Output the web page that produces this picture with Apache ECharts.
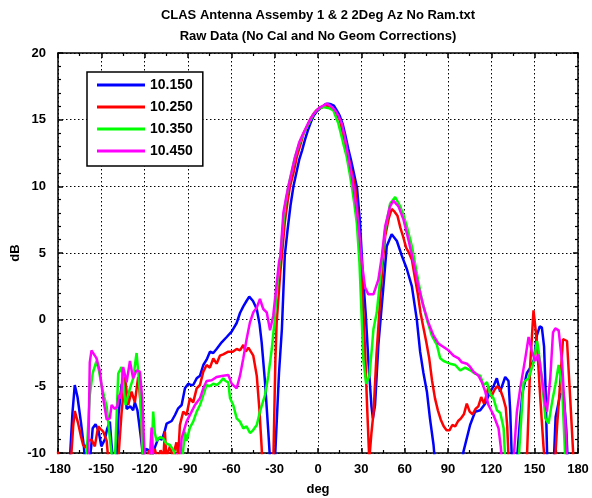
<!DOCTYPE html>
<html><head><meta charset="utf-8">
<script src="https://cdn.jsdelivr.net/npm/echarts@6/dist/echarts.min.js"></script>
<style>html,body{margin:0;padding:0;background:#fff}#c{width:592px;height:498px}</style>
</head><body><div id="c"></div>
<script>
const titleLines = ['CLAS Antenna Assemby 1 & 2 2Deg Az No Ram.txt', 'Raw Data (No Cal and No Geom Corrections)'];
const seriesNames = ['10.150', '10.250', '10.350', '10.450'];
const xTicks = [-180,-150,-120,-90,-60,-30,0,30,60,90,120,150,180];
const yTicks = [-10,-5,0,5,10,15,20];

const blue = [[-180,-12],[-172.5,-12],[-171.8,-10.5],[-170,-7],[-168.4,-4.9],[-166.5,-5.8],[-164,-7.8],[-162,-9.6],[-161.4,-10.5],[-160,-12],[-158.5,-11],[-157,-9.5],[-156,-8.15],[-154,-7.85],[-152,-8.3],[-150,-9.5],[-147.6,-9.0],[-146,-8.2],[-144.1,-7.65],[-143,-9.3],[-142,-10.5],[-141,-12],[-139.5,-10.5],[-138,-7],[-136,-4.9],[-133.7,-4.5],[-132.5,-6.7],[-130,-6.5],[-128,-6.8],[-126.8,-6.2],[-125,-6.8],[-123,-8.5],[-121,-10.3],[-119,-9.7],[-117,-9.8],[-115,-10.4],[-113,-9.6],[-110.6,-8.9],[-108,-9.0],[-106,-8.3],[-104.8,-7.8],[-101.3,-7.6],[-99,-7.15],[-96.8,-6.65],[-94.4,-6.4],[-92.1,-5.15],[-89.8,-4.8],[-88,-4.9],[-86.4,-4.9],[-84,-4.4],[-81.7,-4.2],[-79.4,-3.4],[-77.1,-3.0],[-74.8,-2.4],[-72.5,-2.5],[-70.2,-2.2],[-66.7,-1.7],[-63.2,-1.3],[-59.8,-0.9],[-56.3,-0.25],[-54,0.5],[-51.7,1.0],[-49.5,1.4],[-47.6,1.73],[-45,1.4],[-42.4,0.8],[-40.5,-0.3],[-39,-1.7],[-36.7,-4.65],[-34.4,-8.4],[-33.2,-10.5],[-32,-12],[-29.8,-10.5],[-27,-4],[-25,-0.7],[-23,4.8],[-21,6.8],[-19,8.6],[-17,10.0],[-15,11.0],[-13,12.0],[-11,12.7],[-9,13.5],[-7,14.2],[-5,14.8],[-3,15.3],[-1,15.6],[1,15.8],[3,15.95],[5,16.15],[7,16.2],[9,16.15],[11,16.05],[13,15.7],[15,15.3],[17,14.7],[19,13.8],[21,12.8],[23,11.9],[25,10.9],[27,9.9],[29,7.4],[31,3.5],[33,0.5],[35,-3.3],[37,-6.5],[38,-7.4],[39.5,-6.4],[41.8,-1.9],[45.3,2.5],[47.6,5.5],[51,6.4],[54.6,5.9],[58,4.8],[61.5,3.8],[65,2.5],[68.4,0],[70.7,-2.4],[73,-4.0],[75.4,-5.4],[77.5,-7.4],[80,-9.4],[82,-12],[98,-12],[100.7,-9.9],[105.3,-7.9],[108.8,-6.9],[112.3,-6.8],[115.7,-6.3],[119.2,-5.4],[121.5,-5.0],[123.8,-4.4],[126.1,-5.4],[129.6,-4.3],[131.9,-4.6],[133.1,-6.9],[134.2,-10.5],[135.5,-12],[137,-12],[137.7,-10.5],[139.5,-8],[141.5,-5.5],[144.6,-4.0],[147,-3.6],[149.5,-3.0],[151.5,-1.2],[153.5,-0.5],[155,-0.6],[156.5,-2.0],[157.5,-5],[158.7,-10.5],[160,-12],[162.5,-12],[163.5,-10],[164.5,-7.3],[167.7,-5.6],[170,-5.5],[171.9,-8.2],[172.8,-10.5],[174,-12],[180,-12]];

const red = [[-180,-9.9],[-179.5,-10.5],[-178,-12],[-172,-12],[-171,-10.5],[-169.5,-8],[-168.4,-6.85],[-166,-7.8],[-164,-8.8],[-162.6,-9.4],[-161,-9.6],[-159.1,-9.1],[-156.8,-9.0],[-154.5,-9.5],[-152.2,-8.0],[-150.5,-8.2],[-148.7,-8.4],[-146.3,-9.1],[-145.2,-10.5],[-144,-12],[-139.5,-12],[-138.3,-10.5],[-136,-7],[-133.7,-4.3],[-131.4,-6.4],[-129.1,-5.4],[-126.8,-6.2],[-124.5,-4.3],[-122.6,-6.5],[-121.5,-10.5],[-120.5,-12],[-119,-10.5],[-117,-9.8],[-115,-10.2],[-113,-9.7],[-111,-10.5],[-109,-9.8],[-107,-10.3],[-106,-8.4],[-105,-10.3],[-102.5,-9.5],[-100.5,-10.3],[-98,-9.2],[-96.8,-10.2],[-95.6,-7.9],[-93.3,-6.9],[-91,-7.15],[-88.7,-5.9],[-86.4,-6.2],[-84,-5.15],[-81.7,-4.9],[-79.4,-3.9],[-77.1,-3.4],[-74.8,-3.6],[-72.5,-2.9],[-70.2,-3.3],[-67.9,-2.7],[-65.6,-2.6],[-62.1,-2.4],[-59,-2.4],[-56.3,-2.2],[-54,-2.3],[-51.7,-1.9],[-50,-2.4],[-48.2,-2.1],[-46.5,-2.4],[-44.8,-2.7],[-42.4,-4.2],[-40.6,-6.7],[-39,-9.6],[-38,-12],[-32,-12],[-30.9,-10.5],[-29.5,-3],[-28.6,-0.2],[-26.3,3.3],[-25,4.8],[-23,7.3],[-21,8.9],[-19.4,10],[-17,11.0],[-14.7,12.2],[-12,13.2],[-10,13.95],[-7,14.6],[-5,15.1],[-3,15.45],[-1,15.7],[1,15.85],[3,15.95],[5,16.05],[7,16.05],[9,15.95],[11,15.7],[13,15.4],[15.3,14.9],[17,14.0],[19,13.0],[21,12.2],[23,11.2],[25.7,10.0],[27,8.5],[29,5.0],[31,1.5],[32,-0.7],[33,-3.5],[34,-6.5],[35.5,-10.5],[37,-8.5],[38.5,-6.9],[40.5,-2.6],[42,-0.2],[43,1.5],[45,4.5],[46.5,6.25],[49,7.6],[51,8.3],[53,8.1],[55,7.8],[57,6.9],[59,6.2],[61,5.4],[63,5.0],[65,4.5],[67,3.2],[69,2.0],[71,0.5],[73,-0.6],[75,-1.7],[77,-2.9],[79,-4.6],[81,-5.9],[83,-6.8],[85,-7.5],[87,-8.0],[89,-8.3],[91,-8.3],[93,-7.9],[95,-8.0],[97,-7.6],[99,-7.4],[101,-7.1],[103,-6.3],[105,-6.9],[107,-7.1],[109,-6.7],[111,-6.5],[113,-5.8],[115,-6.3],[117,-5.5],[118,-5.0],[120,-5.8],[122,-5.3],[124,-5.0],[126,-5.2],[128,-5.8],[130,-6.6],[131,-8],[132,-10.5],[134,-12],[143,-12],[144.6,-10.5],[146.9,-3.4],[149.2,0.7],[151.6,-1.7],[153.9,-5.9],[156.1,-9.5],[157.3,-11],[163,-12],[164.2,-10.5],[165.5,-8],[167.7,-4.7],[169.6,-1.45],[172.4,-1.6],[174.6,-5.9],[176.9,-10.5],[178,-12],[180,-12]];

const green = [[-180,-12],[-162,-12],[-160.3,-10.5],[-158,-5.65],[-156,-4.0],[-153.3,-3.1],[-151.5,-3.9],[-149.9,-4.9],[-148,-5.8],[-146.3,-6.5],[-144.1,-8.9],[-142.5,-10.5],[-141.5,-12],[-140.6,-10.5],[-138.3,-4.05],[-136,-3.55],[-133.2,-6.4],[-130.2,-5.15],[-128,-4.4],[-125.6,-2.5],[-123.3,-5.4],[-121,-10.5],[-120,-12],[-116,-12],[-115,-9.5],[-114.1,-6.9],[-113,-8.5],[-111.7,-9.1],[-109.4,-8.8],[-107.2,-8.9],[-105,-9.3],[-102.5,-9.4],[-100,-9.8],[-98,-10.5],[-96,-12],[-94,-10.5],[-92.1,-8.4],[-91,-9.1],[-88.7,-8.1],[-86.4,-7.65],[-84,-6.9],[-81.7,-6.4],[-79.4,-5.65],[-77.1,-4.9],[-75,-5.0],[-72.5,-4.8],[-70,-4.9],[-67.9,-4.7],[-65.6,-4.4],[-64,-4.6],[-62.1,-4.7],[-60.9,-5.9],[-58.7,-6.4],[-56.3,-7.4],[-54,-7.65],[-51.7,-8.15],[-49.5,-8.0],[-47.1,-8.5],[-45,-8.3],[-42.4,-7.9],[-40.2,-6.9],[-36.7,-5.65],[-34.4,-4.2],[-32,-2.2],[-30,0],[-28,2.8],[-26,4.9],[-24,7.3],[-22.8,8.5],[-20.5,10],[-18,11.2],[-15.9,12.2],[-13,13.2],[-10.1,13.95],[-7,14.6],[-5,15.0],[-3.2,15.4],[-1,15.7],[1.4,15.9],[4,15.95],[6,15.9],[8,15.85],[10.6,15.7],[12,15.3],[14.1,14.7],[16,13.9],[18,13.0],[19.9,12.2],[21.7,11.1],[23.4,10.0],[25,8.8],[26.9,7.2],[28.7,4.3],[30.3,0],[31.4,-3.0],[33.3,-4.8],[35.6,-4.2],[37,-2.5],[38.4,-0.7],[40.7,0.55],[43,3.0],[46.5,6.75],[49.9,8.7],[53.4,9.2],[56.9,8.5],[59,7.9],[61.5,7.0],[65,5.5],[68.4,3.5],[71.9,1.5],[75.4,0],[78.8,-1.2],[82.3,-1.9],[84.6,-2.9],[87,-3.1],[89.2,-3.2],[91.5,-3.3],[95,-3.4],[98.4,-3.8],[101.9,-3.6],[105.4,-3.8],[108.8,-4.05],[112.3,-4.2],[114.6,-4.9],[117,-4.7],[119.2,-5.55],[121.5,-5.9],[123.9,-6.8],[126.2,-7.0],[128.5,-8.15],[129.6,-10.5],[131,-12],[137,-12],[138.9,-10.5],[142.3,-4.7],[145.8,-4.4],[149.2,-3.2],[151.6,-1.6],[152.7,-2.3],[155,-4.4],[157.4,-7.4],[159.6,-7.8],[162,-6.2],[164.3,-4.9],[166.6,-3.4],[168.9,-4.9],[171.2,-10.5],[173,-12],[180,-12]];

const magenta = [[-180,-12],[-161,-12],[-159.1,-10.5],[-158,-3.2],[-156.8,-2.3],[-153.3,-2.9],[-151,-3.9],[-148.7,-5.9],[-146.3,-7.5],[-144.1,-7.4],[-142.9,-6.4],[-140.6,-6.7],[-139,-6.5],[-137.9,-5.65],[-136.5,-5.9],[-134.9,-3.55],[-132.5,-4.7],[-130.2,-3.1],[-128,-4.4],[-125.6,-3.8],[-123.3,-3.9],[-121.7,-5.9],[-119.9,-10.5],[-118,-12],[-116.5,-10.5],[-115.2,-8.1],[-114,-10.5],[-113,-12],[-99,-12],[-98,-10.0],[-97,-12],[-95.5,-10.5],[-94.4,-8.9],[-91,-7.65],[-87.5,-6.9],[-85.2,-6.4],[-81.7,-5.9],[-79.4,-5.15],[-77.1,-4.6],[-73.6,-4.55],[-70.2,-4.3],[-65.6,-4.2],[-62.1,-4.15],[-59.8,-4.8],[-58.7,-4.9],[-56.3,-5.15],[-54,-4.2],[-51.7,-2.9],[-49.4,-1.45],[-47.1,-0.2],[-44.8,0.55],[-42.4,0.9],[-40.2,1.55],[-37.9,0.8],[-35.5,0.55],[-33.2,-0.8],[-31,0.3],[-29,2.3],[-27,4.3],[-26,4.8],[-24,8.0],[-22,9.2],[-20.5,10],[-18,11.2],[-15.9,12.2],[-13,13.3],[-10.1,14.0],[-7,14.7],[-5,15.1],[-3.2,15.4],[-1,15.7],[1,15.9],[3.7,16.05],[6,16.2],[8.4,16.05],[10,15.9],[11.8,15.7],[14,15.3],[16.5,14.7],[19,13.4],[21,12.2],[23,11.0],[24.5,10.0],[26,8.8],[28,7.2],[30.3,4.3],[32.6,2.4],[34.9,1.9],[36.1,1.8],[38.4,1.9],[39.5,2.0],[41.8,3.0],[44.2,4.76],[46.5,7.0],[49.9,8.5],[52.2,8.93],[55.7,8.5],[59.2,7.5],[62.6,6.0],[66.1,4.3],[69.5,2.5],[73,1.0],[76.5,-0.25],[80,-1.2],[83.4,-1.8],[86.9,-2.05],[90.3,-2.3],[93.8,-2.7],[97.3,-2.9],[99.6,-3.2],[103.1,-3.3],[105,-3.5],[107.7,-3.9],[111.1,-4.2],[113.5,-4.7],[115.8,-5.4],[118,-6.4],[121.5,-7.15],[125,-8.15],[126.5,-9.5],[127.3,-10.5],[129,-12],[134,-12],[135.4,-10.5],[137.7,-6.9],[140,-5.15],[143.5,-2.9],[145.8,-1.3],[148.1,-2.4],[150.4,-3.1],[152.7,-2.6],[155,-4.4],[157.4,-6.4],[158.5,-6.9],[160.8,-4.4],[162.7,-0.95],[164.3,-0.65],[166.6,-0.8],[169,-3.2],[171.2,-7.65],[172.4,-10.5],[174,-12],[180,-12]];

const seriesData = [blue, red, green, magenta];
const colors = ['#0000ff', '#ff0000', '#00ff00', '#ff00ff'];
const FONT = '"Liberation Sans", Arial, sans-serif';

const chart = echarts.init(document.getElementById('c'), null, {renderer: 'canvas'});
const xMin = xTicks[0], xMax = xTicks[xTicks.length - 1], xStep = xTicks[1] - xTicks[0];
const yMin = yTicks[0], yMax = yTicks[yTicks.length - 1], yStep = yTicks[1] - yTicks[0];

const baseX = {
  type: 'value', min: xMin, max: xMax, interval: xStep,
  axisLine: {show: true, onZero: false, lineStyle: {color: '#000', width: 1.5}},
  axisTick: {show: true, inside: true, length: 5, lineStyle: {color: '#000', width: 1.5}},
  minorTick: {show: true, splitNumber: 2, length: 3, lineStyle: {color: '#000', width: 1.2}}
};
const baseY = {
  type: 'value', min: yMin, max: yMax, interval: yStep,
  axisLine: {show: true, onZero: false, lineStyle: {color: '#000', width: 1.5}},
  axisTick: {show: true, inside: true, length: 5, lineStyle: {color: '#000', width: 1.5}},
  minorTick: {show: true, splitNumber: 5, length: 3, lineStyle: {color: '#000', width: 1.2}}
};

chart.setOption({
  animation: false,
  backgroundColor: '#fff',
  color: colors,
  grid: {left: 58, right: 14, top: 53, bottom: 45, containLabel: false, outerBoundsMode: 'none'},
  graphic: [
    {type: 'text', style: {text: titleLines[0], x: 318, y: 15, textAlign: 'center', textVerticalAlign: 'middle', font: 'bold 13px ' + FONT, fill: '#000'}},
    {type: 'text', style: {text: titleLines[1], x: 318, y: 36, textAlign: 'center', textVerticalAlign: 'middle', font: 'bold 13px ' + FONT, fill: '#000'}}
  ],
  legend: {
    show: true, orient: 'vertical', left: 87, top: 72,
    data: seriesNames, icon: 'rect', itemWidth: 48, itemHeight: 3, itemGap: 8,
    padding: [6, 10, 8, 10],
    backgroundColor: '#fff', borderColor: '#000', borderWidth: 1.5, borderRadius: 0,
    textStyle: {fontFamily: FONT, fontWeight: 'bold', fontSize: 14, color: '#000', lineHeight: 14}
  },
  xAxis: [
    Object.assign({}, baseX, {
      position: 'bottom',
      name: 'deg', nameLocation: 'middle', nameGap: 30,
      nameTextStyle: {fontFamily: FONT, fontWeight: 'bold', fontSize: 13, color: '#000'},
      axisLabel: {show: true, margin: 10, fontFamily: FONT, fontWeight: 'bold', fontSize: 13, color: '#000'},
      splitLine: {show: true, lineStyle: {color: '#000', type: [1.5, 2.5], width: 1}}
    }),
    Object.assign({}, baseX, {position: 'top', axisLabel: {show: false}, splitLine: {show: false}})
  ],
  yAxis: [
    Object.assign({}, baseY, {
      position: 'left',
      name: 'dB', nameLocation: 'middle', nameGap: 36, nameRotate: 90, nameMoveOverlap: false,
      nameTextStyle: {fontFamily: FONT, fontWeight: 'bold', fontSize: 13, color: '#000'},
      axisLabel: {show: true, margin: 12, fontFamily: FONT, fontWeight: 'bold', fontSize: 13, color: '#000'},
      splitLine: {show: true, lineStyle: {color: '#000', type: [1.5, 2.5], width: 1}}
    }),
    Object.assign({}, baseY, {position: 'right', axisLabel: {show: false}, splitLine: {show: false}})
  ],
  series: seriesNames.map((n, i) => ({
    name: n, type: 'line', data: seriesData[i], showSymbol: false, symbol: 'none',
    clip: true, lineStyle: {width: 2.5, color: colors[i]}, itemStyle: {color: colors[i]},
    z: 2 + i
  }))
});
</script>
</body></html>
